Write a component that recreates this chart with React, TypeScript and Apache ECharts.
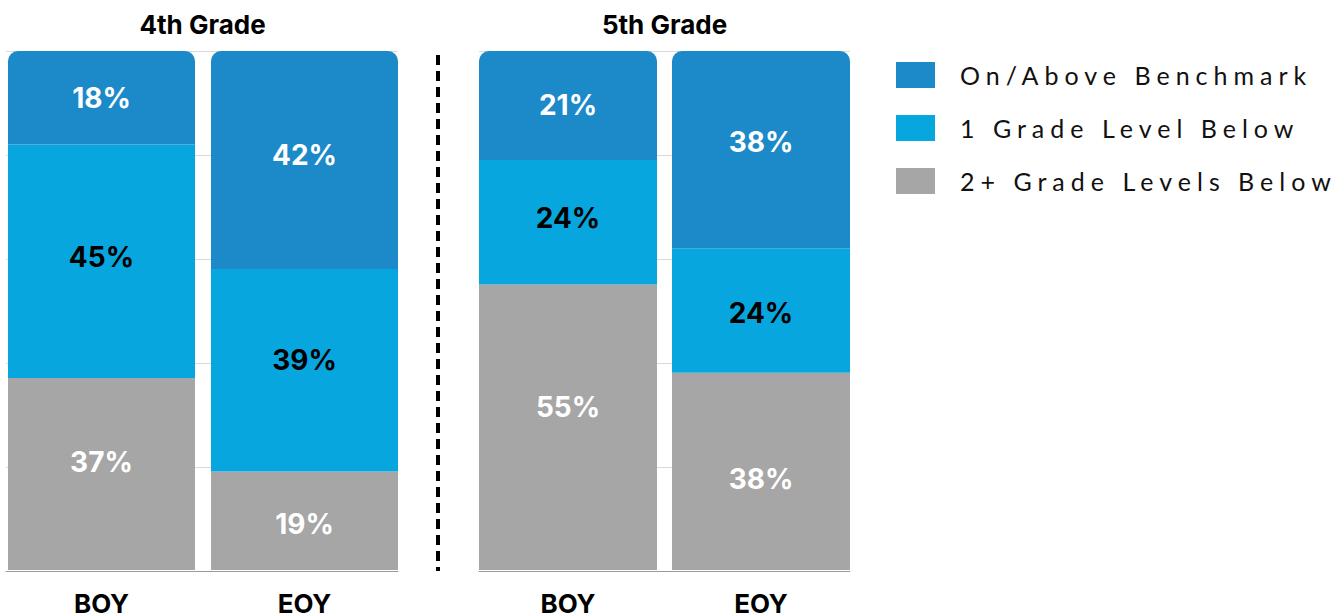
import React, { useEffect, useRef } from 'react';
import * as echarts from 'echarts';

const categories = ['BOY', 'EOY'];
const seriesNames = ['On/Above Benchmark', '1 Grade Level Below', '2+ Grade Levels Below'];
const gradeTitles = ['4th Grade', '5th Grade'];

const grade4Above = [18, 42];
const grade4OneBelow = [45, 39];
const grade4TwoBelow = [37, 19];

const grade5Above = [21, 38];
const grade5OneBelow = [24, 24];
const grade5TwoBelow = [55, 38];

const yMin = 0;
const yMax = 100;
const yInterval = 20;

// vertical label nudges (style only), per grade, per series, per category
const labelNudge4 = { above: [0, -5], one: [-4, -10], two: [-12, 3] };
const labelNudge5 = { above: [0, -8], one: [-4, 2], two: [-20, 8] };

const COLOR_ABOVE = '#1C89C9';
const COLOR_ONE = '#08A6DF';
const COLOR_TWO = '#A6A6A6';

const LABEL_FONT = 'Inter';

function withNudge(values: number[], nudges: number[]) {
  return values.map((v, i) => ({ value: v, label: { offset: [0, nudges[i]] } }));
}

function makeSeries(
  gridIdx: number,
  above: number[],
  one: number[],
  two: number[],
  nudge: { above: number[]; one: number[]; two: number[] }
) {
  const label = (color: string) => ({
    show: true,
    position: 'inside',
    formatter: '{c}%',
    color,
    fontFamily: LABEL_FONT,
    fontWeight: 700,
    fontSize: 28,
  });
  const common = {
    type: 'bar',
    stack: 'g' + gridIdx,
    xAxisIndex: gridIdx,
    yAxisIndex: gridIdx,
    barWidth: gridIdx === 0 ? 187 : 178,
  };
  return [
    {
      ...common,
      name: seriesNames[2],
      data: withNudge(two, nudge.two),
      itemStyle: { color: COLOR_TWO },
      label: label('#ffffff'),
    },
    {
      ...common,
      name: seriesNames[1],
      data: withNudge(one, nudge.one),
      itemStyle: { color: COLOR_ONE },
      label: label('#000000'),
    },
    {
      ...common,
      name: seriesNames[0],
      data: withNudge(above, nudge.above),
      itemStyle: { color: COLOR_ABOVE, borderRadius: [10, 10, 0, 0] },
      label: label('#ffffff'),
    },
  ];
}

export default function App() {
  const ref = useRef<HTMLDivElement>(null);

  useEffect(() => {
    if (!ref.current) return;
    const chart = echarts.init(ref.current, undefined, { renderer: 'svg' });

    const barGrid = (left: number, width: number) => ({ left, width, top: 51, height: 520 });
    const titleStyle = (text: string) => ({
      text,
      fill: '#000',
      fontFamily: LABEL_FONT,
      fontWeight: 700,
      fontSize: 26,
      textAlign: 'center',
      verticalAlign: 'middle',
      textVerticalAlign: 'middle',
    });

    const option: any = {
      animation: false,
      grid: [barGrid(-1, 407), barGrid(471.5, 386), barGrid(6, 392), barGrid(479, 371)],
      xAxis: [
        ...[0, 1].map((i) => ({
          type: 'category',
          gridIndex: i,
          data: categories,
          axisLine: { show: false },
          axisTick: { show: false },
          axisLabel: {
            margin: 20,
            color: '#000',
            fontFamily: LABEL_FONT,
            fontWeight: 700,
            fontSize: 26,
          },
        })),
        ...[2, 3].map((i) => ({
          type: 'value',
          gridIndex: i,
          min: 0,
          max: 1,
          z: 5,
          axisLabel: { show: false },
          axisTick: { show: false },
          splitLine: { show: false },
          axisLine: { show: true, lineStyle: { color: '#9a9a9a', width: 1 } },
        })),
      ],
      yAxis: [
        ...[0, 1].map((i) => ({
          type: 'value',
          gridIndex: i,
          min: yMin,
          max: yMax,
          interval: yInterval,
          show: false,
        })),
        ...[2, 3].map((i) => ({
          type: 'value',
          gridIndex: i,
          min: yMin,
          max: yMax,
          interval: yInterval,
          axisLabel: { show: false },
          axisTick: { show: false },
          axisLine: { show: false },
          splitLine: { show: true, lineStyle: { color: '#d9d9d9', width: 1 } },
        })),
      ],
      legend: {
        orient: 'vertical',
        left: 896,
        top: 62,
        padding: 0,
        itemWidth: 39,
        itemHeight: 26,
        itemGap: 27,
        icon: 'rect',
        selectedMode: false,
        data: seriesNames,
        textStyle: {
          fontFamily: 'Lato',
          fontSize: 25,
          color: '#111111',
          padding: [0, 0, 0, 20],
        },
      },
      graphic: [
        { type: 'text', x: 202.5, y: 24, style: titleStyle(gradeTitles[0]) },
        { type: 'text', x: 664.5, y: 24, style: titleStyle(gradeTitles[1]) },
        {
          type: 'line',
          shape: { x1: 438, y1: 55, x2: 438, y2: 571 },
          style: { stroke: '#000', lineWidth: 4, lineDash: [10, 6] },
        },
      ],
      series: [
        ...makeSeries(0, grade4Above, grade4OneBelow, grade4TwoBelow, labelNudge4),
        ...makeSeries(1, grade5Above, grade5OneBelow, grade5TwoBelow, labelNudge5),
      ],
    };

    chart.setOption(option);
    return () => chart.dispose();
  }, []);

  return (
    <>
      <style>{'svg text[style*="Lato"]{letter-spacing:6px;}'}</style>
      <div
        ref={ref}
        style={{ position: 'fixed', left: 0, top: 0, width: 1341, height: 616, background: '#fff' }}
      />
    </>
  );
}
